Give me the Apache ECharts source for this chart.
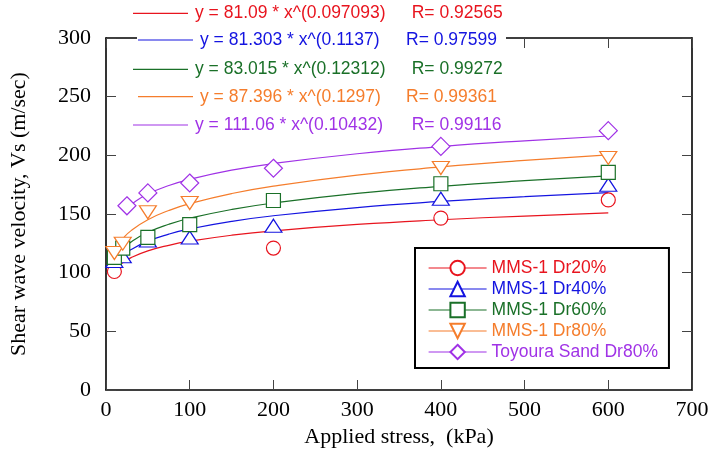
<!DOCTYPE html>
<html><head><meta charset="utf-8">
<script src="https://cdn.jsdelivr.net/npm/echarts@6/dist/echarts.min.js"></script>
<style>html,body{margin:0;padding:0;background:#fff}#c{width:712px;height:466px}</style>
</head><body><div id="c"></div>
<script>
// ---- data ----
const seriesNames = ['MMS-1 Dr20%', 'MMS-1 Dr40%', 'MMS-1 Dr60%', 'MMS-1 Dr80%', 'Toyoura Sand Dr80%'];

const mms20X = [10, 200, 400, 600];
const mms20Y = [101, 121, 146.5, 162];
const mms40X = [10, 20, 50, 100, 200, 400, 600];
const mms40Y = [110, 114, 127.5, 130, 140, 163, 175];
const mms60X = [10, 20, 50, 100, 200, 400, 600];
const mms60Y = [113, 121, 130, 141, 161.5, 175.8, 185.4];
const mms80X = [10, 20, 50, 100, 400, 600];
const mms80Y = [116.7, 124.7, 151.5, 159.4, 189.2, 197.8];
const toyX = [25, 50, 100, 200, 400, 600];
const toyY = [157, 168, 176.4, 189, 207.6, 221];

// fitted power-law curves as drawn in the picture
const fitX = [10, 15, 20, 30, 50, 75, 100, 150, 200, 300, 400, 500, 600];
const fit20 = [101.40, 105.48, 108.46, 112.82, 118.56, 123.32, 126.81, 131.90, 135.64, 141.08, 145.08, 148.26, 150.90];
const fit40 = [105.63, 110.62, 114.30, 119.69, 126.85, 132.83, 137.25, 143.72, 148.50, 155.51, 160.68, 164.81, 168.26];
const fit60 = [110.22, 115.87, 120.04, 126.19, 134.38, 141.26, 146.35, 153.84, 159.39, 167.55, 173.59, 178.42, 182.47];
const fit80 = [117.81, 124.17, 128.89, 135.85, 145.16, 153.00, 158.81, 167.39, 173.75, 183.14, 190.10, 195.68, 200.36];
const fitToyX = [25, 30, 50, 75, 100, 150, 200, 300, 400, 500, 600];
const fitToy = [155.38, 158.36, 167.03, 174.25, 179.55, 187.32, 193.02, 201.36, 207.50, 212.38, 216.46];

const fitEquations = ['y = 81.09 * x^(0.097093)', 'y = 81.303 * x^(0.1137)', 'y = 83.015 * x^(0.12312)', 'y = 87.396 * x^(0.1297)', 'y = 111.06 * x^(0.10432)'];
const fitR = ['R= 0.92565', 'R= 0.97599', 'R= 0.99272', 'R= 0.99361', 'R= 0.99116'];

const xAxisName = 'Applied stress,  (kPa)';
const yAxisName = 'Shear wave velocity, Vs (m/sec)';

// ---- styling ----
const colors = ['#e8141e', '#1414e0', '#1a7028', '#f57d2c', '#a032e6'];
const symbols = ['circle', 'triangle', 'rect', 'path://M0,0 L20,0 L10,15 Z', 'diamond'];
const symbolSizes = [14, [17, 13], 14, [17, 13], 18];

const pairs = (xs, ys) => xs.map((x, i) => [x, ys[i]]);
const dataSets = [pairs(mms20X, mms20Y), pairs(mms40X, mms40Y), pairs(mms60X, mms60Y), pairs(mms80X, mms80Y), pairs(toyX, toyY)];
const fitSets = [pairs(fitX, fit20), pairs(fitX, fit40), pairs(fitX, fit60), pairs(fitX, fit80), pairs(fitToyX, fitToy)];

const serif = '"Liberation Serif", "Times New Roman", serif';
const sans = '"Liberation Sans", Arial, sans-serif';

const series = [];
fitSets.forEach((d, i) => {
  series.push({
    name: 'fit' + i, type: 'line', data: d, smooth: 0.5,
    symbol: 'none', silent: true, z: 2,
    lineStyle: { color: colors[i], width: 1.2 }
  });
});
dataSets.forEach((d, i) => {
  series.push({
    name: seriesNames[i], type: 'line', data: d, z: 3 + i,
    symbol: symbols[i], symbolSize: symbolSizes[i], showAllSymbol: true,
    lineStyle: { opacity: 0, width: 0, color: colors[i] },
    itemStyle: { color: '#ffffff', borderColor: colors[i], borderWidth: 1.2 }
  });
});

// equation annotation rows (layout)
const rowY = [13.3, 40, 69.3, 96.7, 125];
const rowLine = [[133, 188], [138, 193], [133, 188], [138, 193], [133, 188]];
const rowEqX = [195, 200, 195, 200, 195];
const rowRX = [411.7, 406, 411.7, 406, 411.7];
const graphics = [];
rowY.forEach((y, i) => {
  graphics.push({ type: 'rect', z: 100, shape: { x: rowLine[i][0] - 1, y: y - 10, width: 506 - rowLine[i][0] + 1, height: 20 }, style: { fill: '#fff' } });
  graphics.push({ type: 'line', z: 101, shape: { x1: rowLine[i][0], y1: y, x2: rowLine[i][1], y2: y }, style: { stroke: colors[i], lineWidth: 1.2 } });
  graphics.push({ type: 'text', z: 101, style: { text: fitEquations[i], x: rowEqX[i], y: y, fill: colors[i], font: '17.5px ' + sans, verticalAlign: 'middle', textVerticalAlign: 'middle' } });
  graphics.push({ type: 'text', z: 101, style: { text: fitR[i], x: rowRX[i], y: y, fill: colors[i], font: '17.5px ' + sans, verticalAlign: 'middle', textVerticalAlign: 'middle' } });
});

const axisLine = { show: true, onZero: false, lineStyle: { color: '#000', width: 1.6 } };
const tick = { show: true, inside: true, length: 10, lineStyle: { color: '#444', width: 1 } };
const labelStyle = { fontFamily: serif, fontSize: 22, color: '#000' };

const option = {
  animation: false,
  backgroundColor: '#fff',
  grid: { left: 106, right: 20, top: 38, bottom: 76, containLabel: false, outerBoundsMode: 'none' },
  xAxis: [
    { type: 'value', min: 0, max: 700, interval: 100, position: 'bottom',
      axisLine: axisLine, axisTick: tick, splitLine: { show: false },
      axisLabel: Object.assign({ margin: 9 }, labelStyle),
      name: xAxisName, nameLocation: 'middle', nameGap: 36,
      nameTextStyle: { fontFamily: serif, fontSize: 22, color: '#000' } },
    { type: 'value', min: 0, max: 700, interval: 100, position: 'top',
      axisLine: axisLine, axisTick: tick, splitLine: { show: false }, axisLabel: { show: false } }
  ],
  yAxis: [
    { type: 'value', min: 0, max: 300, interval: 50, position: 'left',
      axisLine: axisLine, axisTick: tick, splitLine: { show: false },
      axisLabel: Object.assign({ margin: 15 }, labelStyle),
      name: yAxisName, nameLocation: 'middle', nameGap: 76,
      nameTextStyle: { fontFamily: serif, fontSize: 22, color: '#000' } },
    { type: 'value', min: 0, max: 300, interval: 50, position: 'right',
      axisLine: axisLine, axisTick: tick, splitLine: { show: false }, axisLabel: { show: false } }
  ],
  legend: {
    orient: 'vertical', left: 415, top: 248,
    padding: [11, 11, 7, 13], itemWidth: 58, itemHeight: 18, itemGap: 3,
    borderColor: '#000', borderWidth: 2, backgroundColor: '#fff',
    textStyle: { fontFamily: sans, fontSize: 17.5 },
    data: seriesNames.map((n, i) => ({
      name: n, textStyle: { color: colors[i] },
      lineStyle: { opacity: 1, width: 1.2, color: colors[i] }
    }))
  },
  graphic: { elements: graphics },
  series: series
};

const chart = echarts.init(document.getElementById('c'), null, { renderer: 'canvas' });
chart.setOption(option);
</script>
</body></html>
